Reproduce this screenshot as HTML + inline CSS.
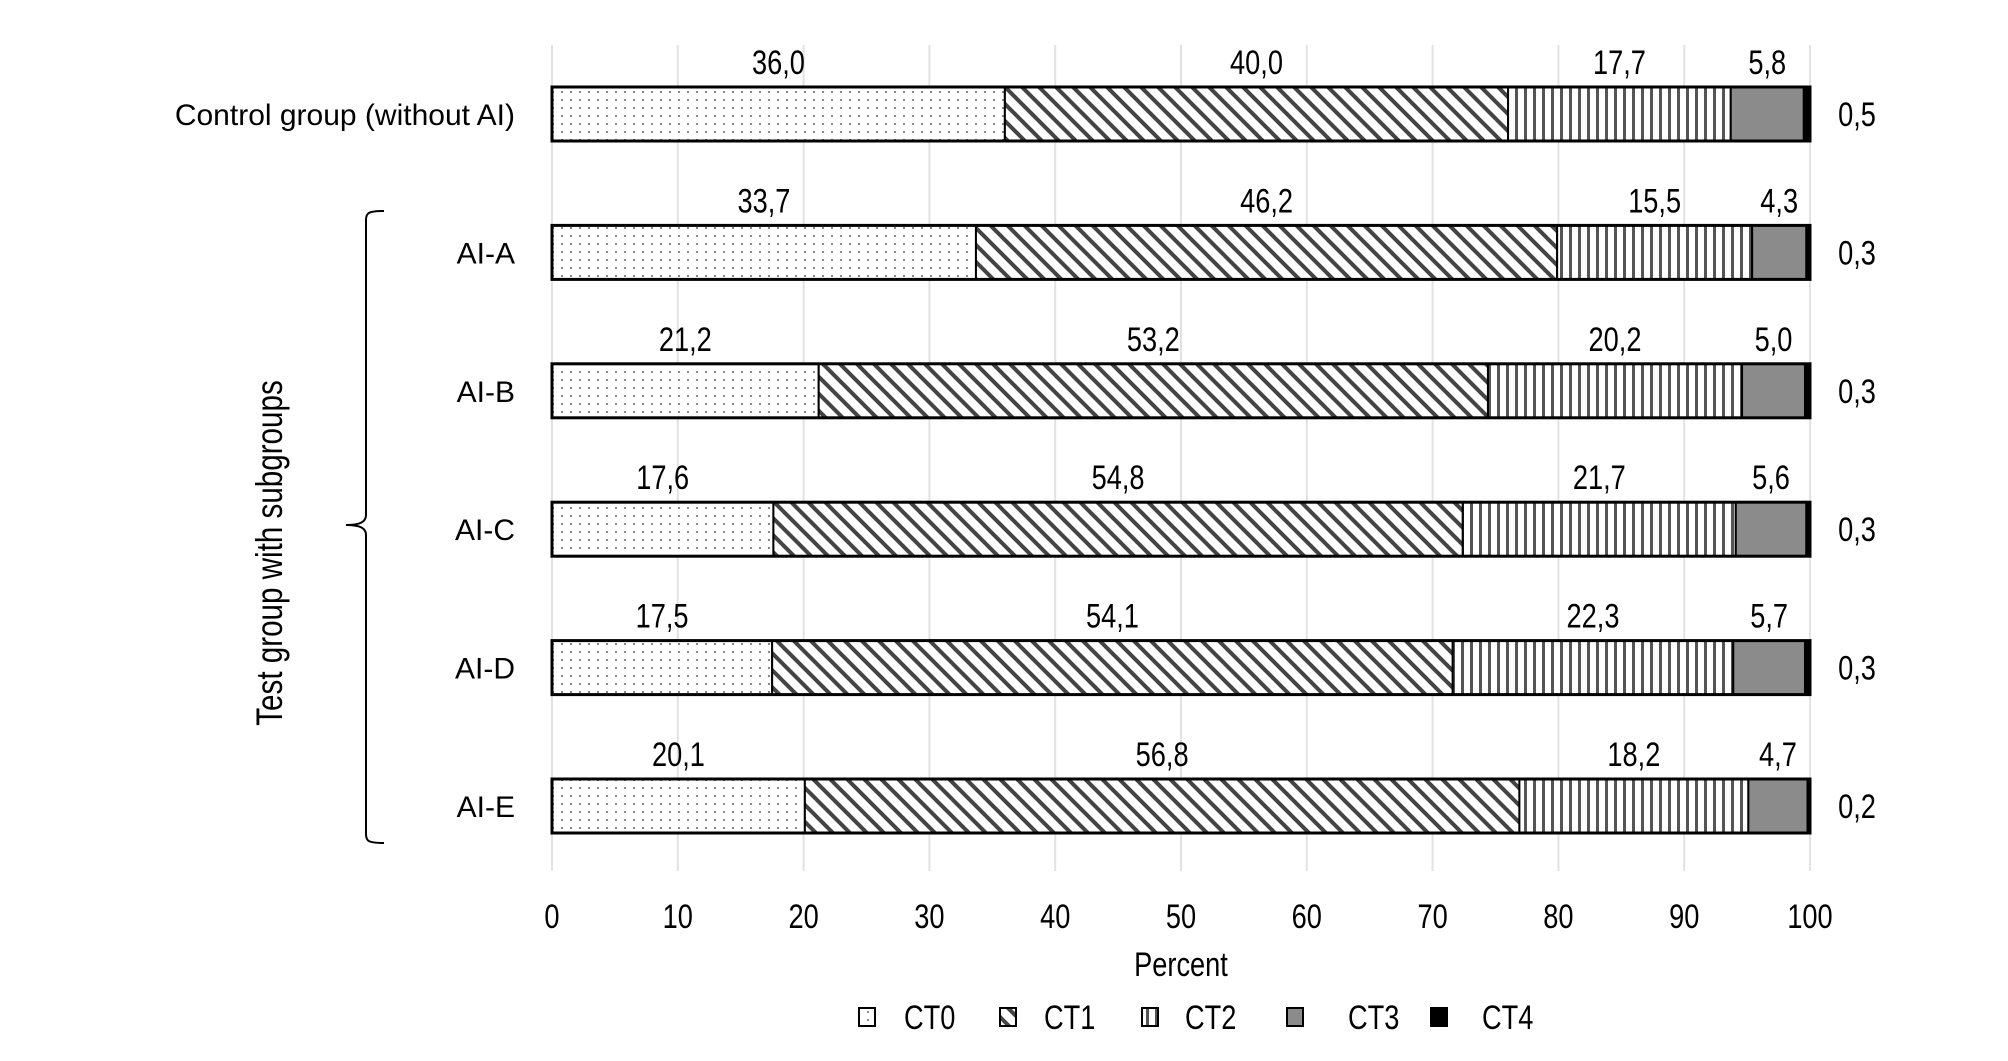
<!DOCTYPE html>
<html><head><meta charset="utf-8"><style>
body{margin:0;background:#fff}
svg text{font-family:"Liberation Sans",sans-serif;fill:#000}
.n{font-size:34px}
.y{font-size:37px}
.c{font-size:30px}
</style></head><body>
<svg id="s" width="2008" height="1056" viewBox="0 0 2008 1056" xmlns="http://www.w3.org/2000/svg">
<defs>
<pattern id="p0" width="9" height="8" patternUnits="userSpaceOnUse"><rect width="9" height="8" fill="#fff"/><rect x="3" y="3" width="2" height="2" fill="#888"/></pattern>
<pattern id="p1" width="17" height="17" patternUnits="userSpaceOnUse"><rect width="17" height="17" fill="#fff"/><path d="M0,0L17,17M-17,0L0,17M0,-17L17,0M17,0L34,17M0,17L17,34" stroke="#444" stroke-width="4"/></pattern>
<pattern id="p2" width="9" height="10" patternUnits="userSpaceOnUse"><rect width="9" height="10" fill="#fff"/><rect x="3" width="3" height="10" fill="#555"/></pattern>
</defs>
<g id="g"></g>
</svg>
<script>
(function(){
var g=document.getElementById('g'),h='';
var L=552,W=12.58;
function T(x,y,s,anc,cls,rot){cls=cls||'n';anc=anc||'middle';
return '<text class="'+cls+'" transform="translate('+x+','+y+')'+(rot?' rotate(-90)':'')+' scale(0.8,1)" text-anchor="'+anc+'">'+s+'</text>';}
for(var i=0;i<=10;i++){var x=L+i*10*W;h+='<line x1="'+x+'" y1="45" x2="'+x+'" y2="871" stroke="#e2e2e2" stroke-width="2"/>';
h+=T(x,928,i*10);}
var D=[["Control group (without AI)",36.0,40.0,17.7,5.8,0.5],["AI-A",33.7,46.2,15.5,4.3,0.3],["AI-B",21.2,53.2,20.2,5.0,0.3],["AI-C",17.6,54.8,21.7,5.6,0.3],["AI-D",17.5,54.1,22.3,5.7,0.3],["AI-E",20.1,56.8,18.2,4.7,0.2]];
var F=['url(#p0)','url(#p1)','url(#p2)','#8b8b8b','#000'];
for(var r=0;r<6;r++){var cy=114+r*138.4,by=cy-27,cum=0,d=D[r];
h+='<text class="c" x="515" y="'+(cy+11)+'" text-anchor="end">'+d[0]+'</text>';
for(var k=0;k<5;k++){var v=d[k+1],x0=L+cum*W,w=v*W;
h+='<rect x="'+x0+'" y="'+by+'" width="'+w+'" height="54" fill="'+F[k]+'" stroke="#000" stroke-width="'+(k==4?0:2)+'"/>';
var t=v.toFixed(1).replace('.',',');
if(k<4)h+=T(x0+w/2,cy-40,t);
else h+=T(1857,cy+12,t);
cum+=v;}
h+='<rect x="'+L+'" y="'+by+'" width="'+(1810-L)+'" height="54" fill="none" stroke="#000" stroke-width="3"/>';}
h+=T(1181,976,'Percent');
var lg=[[867,904,'CT0',0],[1008,1044,'CT1',1],[1150,1185,'CT2',2],[1295,1348,'CT3',3],[1439,1482,'CT4',4]];
lg.forEach(function(a){h+='<rect x="'+(a[0]-8)+'" y="1008" width="16" height="18" fill="'+F[a[3]]+'" stroke="#000" stroke-width="2"/>'+T(a[1],1029,a[2],'start');});
h+=T(282,553,'Test group with subgroups','middle','y',true);
h+='<path d="M384,211 C368,211 366,213 366,220 L366,515 C366,522 360,525 346,525 C360,525 366,528 366,535 L366,834 C366,841 368,843 384,843" fill="none" stroke="#000" stroke-width="2"/>';
g.innerHTML=h;
})();
</script>
</body></html>
